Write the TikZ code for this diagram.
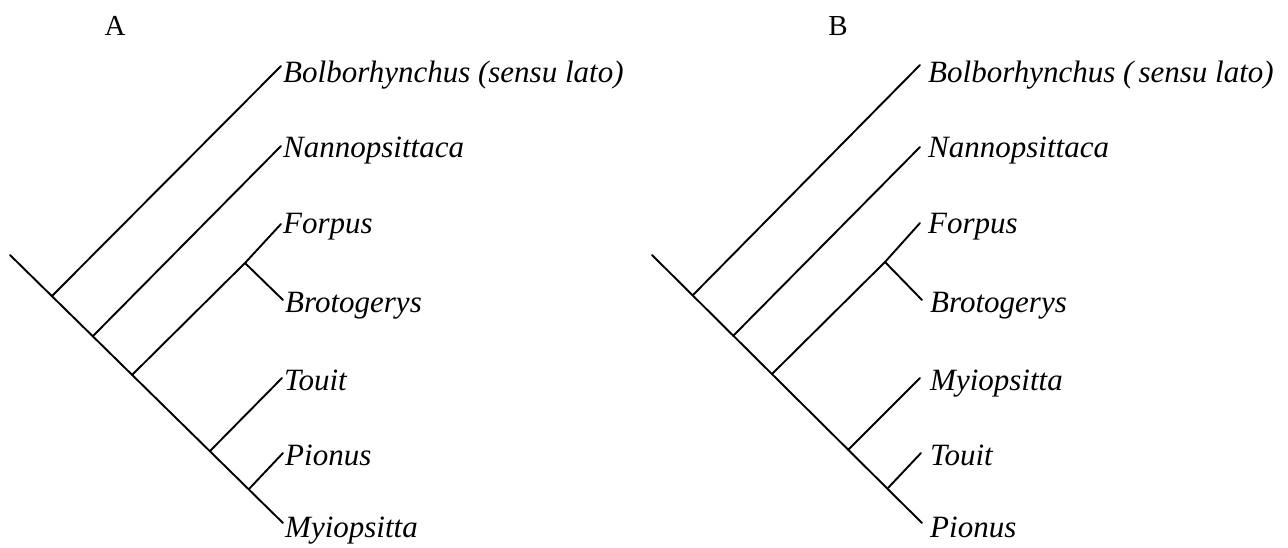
\documentclass[tikz,border=0pt]{standalone}
\usepackage{fontspec}
\setmainfont{Liberation Serif}
\begin{document}
\begin{tikzpicture}[x=1pt,y=-1pt,
  br/.style={line width=1.9pt, line cap=round},
  lab/.style={anchor=base west, inner sep=0pt, font=\fontsize{31}{31}\selectfont\itshape},
  panel/.style={anchor=base, inner sep=0pt, font=\fontsize{29}{29}\selectfont}]
\useasboundingbox (0,0) rectangle (1288,547);

% ---------- Tree A ----------
\node[panel] (pA) at (115,35) {A};
\coordinate (aR) at (10,255);
\coordinate (a1) at (52,296);
\coordinate (a2) at (93,336);
\coordinate (a3) at (132,375);
\coordinate (a4) at (210,451);
\coordinate (a5) at (249,489);
\coordinate (aFB) at (245,263);
\coordinate (atBol) at (281,66);
\coordinate (atNan) at (281,146);
\coordinate (atFor) at (281,224);
\coordinate (atBro) at (283,300);
\coordinate (atTou) at (282,378);
\coordinate (atPio) at (283,453);
\coordinate (atMyi) at (283,523);
\draw[br] (aR) -- (atMyi);
\draw[br] (a1) -- (atBol);
\draw[br] (a2) -- (atNan);
\draw[br] (a3) -- (aFB) -- (atFor);
\draw[br] (aFB) -- (atBro);
\draw[br] (a4) -- (atTou);
\draw[br] (a5) -- (atPio);
\node[lab] (aBol) at (283,82) {Bolborhynchus (sensu lato)};
\node[lab] (aNan) at (283,157) {Nannopsittaca};
\node[lab] (aFor) at (283,233) {Forpus};
\node[lab] (aBro) at (285,312) {Brotogerys};
\node[lab] (aTou) at (284,390) {Touit};
\node[lab] (aPio) at (285,465) {Pionus};
\node[lab] (aMyi) at (285,537) {Myiopsitta};

% ---------- Tree B ----------
\node[panel] (pB) at (838,35) {B};
\coordinate (bR) at (652,255);
\coordinate (b1) at (693,295);
\coordinate (b2) at (733,336);
\coordinate (b3) at (772,374);
\coordinate (b4) at (848,450);
\coordinate (b5) at (888,488);
\coordinate (bFB) at (885,262);
\coordinate (btBol) at (920,65);
\coordinate (btNan) at (920,147);
\coordinate (btFor) at (920,223);
\coordinate (btBro) at (922,300);
\coordinate (btMyi) at (920,378);
\coordinate (btTou) at (921,453);
\coordinate (btPio) at (922,523);
\draw[br] (bR) -- (btPio);
\draw[br] (b1) -- (btBol);
\draw[br] (b2) -- (btNan);
\draw[br] (b3) -- (bFB) -- (btFor);
\draw[br] (bFB) -- (btBro);
\draw[br] (b4) -- (btMyi);
\draw[br] (b5) -- (btTou);
\node[lab] (bBol) at (928,82) {Bolborhynchus (\,sensu lato)};
\node[lab] (bNan) at (928,157) {Nannopsittaca};
\node[lab] (bFor) at (928,233) {Forpus};
\node[lab] (bBro) at (930,312) {Brotogerys};
\node[lab] (bMyi) at (930,390) {Myiopsitta};
\node[lab] (bTou) at (930,465) {Touit};
\node[lab] (bPio) at (930,537) {Pionus};
\end{tikzpicture}
\end{document}
